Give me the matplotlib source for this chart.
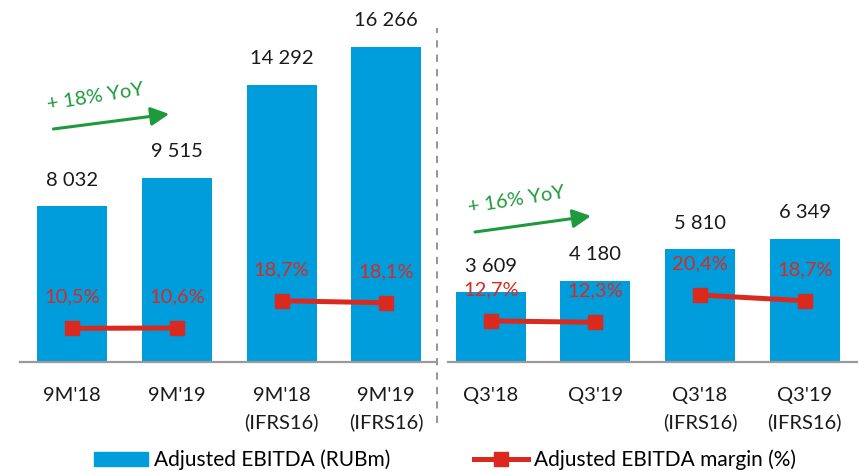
import matplotlib.pyplot as plt

plt.rcParams['font.family'] = ['Lato', 'DejaVu Sans']

# Adjusted EBITDA, RUBm, and margin, %
periods = ["9M'18", "9M'19", "9M'18\n(IFRS16)", "9M'19\n(IFRS16)",
           "Q3'18", "Q3'19", "Q3'18\n(IFRS16)", "Q3'19\n(IFRS16)"]
ebitda = [8032, 9515, 14292, 16266, 3609, 4180, 5810, 6349]
margin = [10.5, 10.6, 18.7, 18.1, 12.7, 12.3, 20.4, 18.7]
growth = ['+ 18% YoY', '+ 16% YoY']

blue = '#009ddc'
red = '#da2a1f'
green = '#1e9a3c'
grey = '#8c8c8c'

fig = plt.figure(figsize=(8.6, 4.71), dpi=100)
ax = fig.add_axes([20 / 860, 109 / 471, 837 / 860, 362 / 471])
x = list(range(len(periods)))

ax.bar(x, ebitda, width=0.67, color=blue, zorder=2)
ax.set_xlim(-0.5, 7.5)
ax.set_ylim(0, 18674)
for xi, v in zip(x, ebitda):
    ax.annotate(f'{v:,}'.replace(',', ' '), (xi, v), xytext=(0, 18.7),
                textcoords='offset points', ha='center', va='center',
                fontsize=14.5, color='#1a1a1a')

# baselines for the two blocks and the dashed divider
ax.plot([-0.5, 3.486], [0, 0], color='#9a9a9a', lw=1.6, clip_on=False, zorder=3)
ax.plot([3.59, 7.5], [0, 0], color='#9a9a9a', lw=1.6, clip_on=False, zorder=3)
ax.plot([3.486, 3.486], [-3150, 17230], color=grey, lw=1.3,
        dashes=(4, 4), clip_on=False)

ax.set_xticks(x)
ax.set_xticklabels(periods, fontsize=14.5, linespacing=1.6, color='#1a1a1a')
ax.tick_params(axis='x', length=0, pad=18)
ax.set_yticks([])
for s in ax.spines.values():
    s.set_visible(False)

# growth arrows
for (x0, y0, x1, y1), (tx, ty), txt in zip(
        [(-0.181, 12020, 0.926, 12793), (3.849, 6706, 4.957, 7532)],
        [(0.22, 13670), (4.24, 8357)], growth):
    ax.annotate('', xy=(x1, y1), xytext=(x0, y0),
                arrowprops=dict(arrowstyle='-|>,head_length=0.55,head_width=0.28',
                                mutation_scale=20, color=green, lw=2.2,
                                shrinkA=0, shrinkB=0))
    ax.text(tx, ty, txt, color=green, fontsize=14.5, rotation=9,
            ha='center', va='center', rotation_mode='anchor')

ax2 = ax.twinx()
ax2.set_ylim(0.48, 108.2)
for i in range(0, len(margin), 2):
    ax2.plot(x[i:i + 2], margin[i:i + 2], color=red, lw=3.6, marker='s',
             markersize=10, solid_capstyle='butt')
for xi, m in zip(x, margin):
    ax2.annotate(f'{m:.1f}'.replace('.', ',') + '%', (xi, m), xytext=(0, 22.3),
                 textcoords='offset points', ha='center', va='center',
                 fontsize=14.5, color=red)
ax2.set_yticks([])
for s in ax2.spines.values():
    s.set_visible(False)

h_bar = plt.Rectangle((0, 0), 1, 1, color=blue)
h_line = plt.Line2D([], [], color=red, lw=3.6, marker='s', markersize=10)
fig.legend([h_bar, h_line], ['Adjusted EBITDA (RUBm)', 'Adjusted EBITDA margin (%)'],
           loc='center left', bbox_to_anchor=(94 / 860, 11 / 471), ncol=2,
           frameon=False, fontsize=15, handlelength=2.6, handleheight=0.6,
           handletextpad=0.28, columnspacing=4.0, borderpad=0, borderaxespad=0)

fig.savefig('out.png', dpi=100)
